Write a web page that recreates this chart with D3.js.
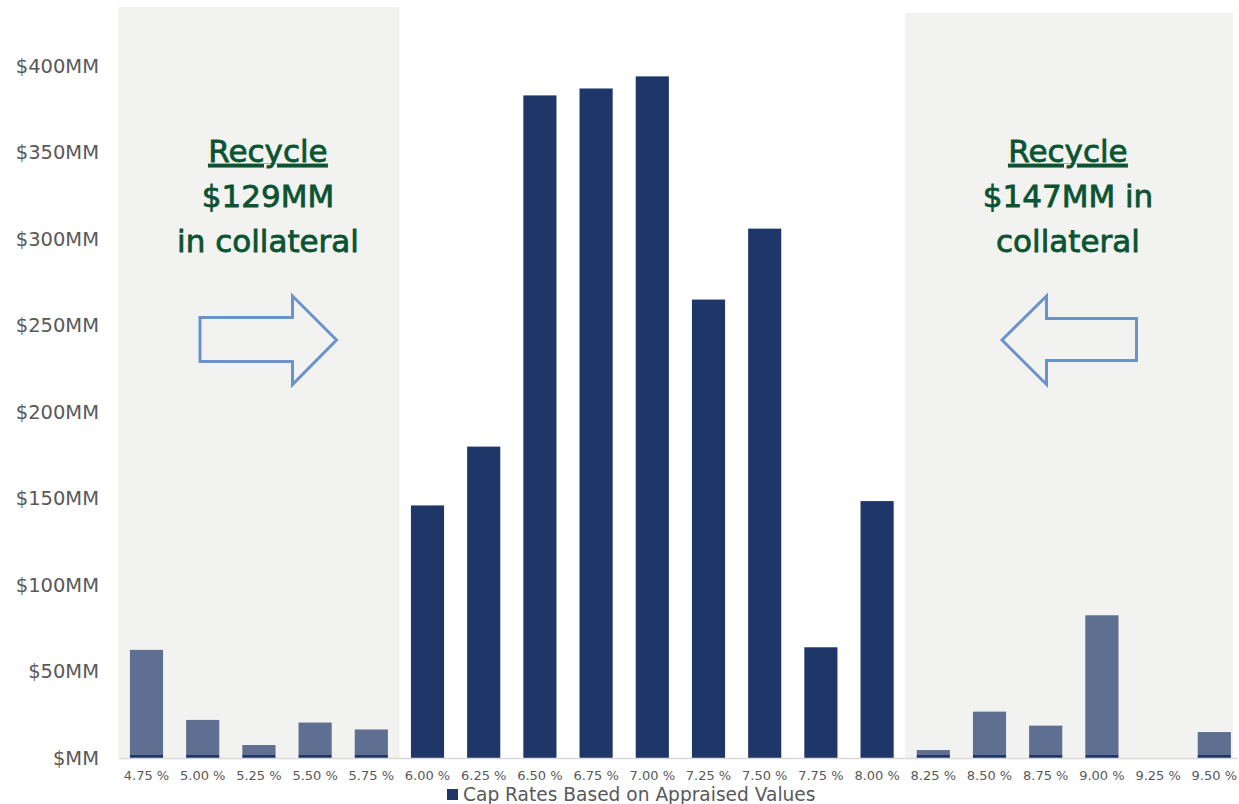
<!DOCTYPE html>
<html><head><meta charset="utf-8">
<script src="https://cdn.jsdelivr.net/npm/d3@7"></script>
<style>html,body{margin:0;padding:0;background:#fff;}svg{display:block;}</style>
</head><body>
<script>
const categories = ["4.75 %","5.00 %","5.25 %","5.50 %","5.75 %","6.00 %","6.25 %","6.50 %","6.75 %","7.00 %","7.25 %","7.50 %","7.75 %","8.00 %","8.25 %","8.50 %","8.75 %","9.00 %","9.25 %","9.50 %"];
const values = [62.5, 22, 7.5, 20.5, 16.5, 146, 180, 383, 387, 394, 265, 306, 64, 148.5, 4.6, 26.8, 18.7, 82.5, 0, 15];
const yTicks = [0, 50, 100, 150, 200, 250, 300, 350, 400];
const yTickLabels = ["$MM","$50MM","$100MM","$150MM","$200MM","$250MM","$300MM","$350MM","$400MM"];
const leftNote = ["Recycle", "$129MM", "in collateral"];
const rightNote = ["Recycle", "$147MM in", "collateral"];
const legendLabel = "Cap Rates Based on Appraised Values";

const W = 1239, H = 804;
const svg = d3.select("body").append("svg").attr("width", W).attr("height", H);
const font = "'DejaVu Sans', sans-serif";
const dark = "#1f3768", panel = "#f2f2f1", green = "#0b5331", arrowC = "#6a93cc";

const x = d3.scaleBand().domain(categories).range([118.4, 1242.4]).paddingInner(0.41).paddingOuter(0.205);
const y = d3.scaleLinear().domain([0, 400]).range([758, 66]);
const step = x.step();
const x0 = 118.4;

// panel backgrounds
const leftPanel = {x1: x0, x2: x0 + 5 * step, top: 7};
const rightPanel = {x1: x0 + 14 * step, x2: 1233, top: 13};
[leftPanel, rightPanel].forEach(p => {
  svg.append("rect").attr("x", p.x1).attr("y", p.top).attr("width", p.x2 - p.x1).attr("height", y(0) - p.top).attr("fill", panel);
});

// bars
svg.append("g").selectAll("rect").data(values).join("rect")
  .attr("x", (d, i) => x(categories[i]))
  .attr("width", x.bandwidth())
  .attr("y", d => y(d))
  .attr("height", d => y(0) - y(d))
  .attr("fill", dark);

// translucent overlay on panels
[leftPanel, rightPanel].forEach(p => {
  svg.append("rect").attr("x", p.x1).attr("y", p.top).attr("width", p.x2 - p.x1).attr("height", 755 - p.top)
    .attr("fill", panel).attr("fill-opacity", 0.3);
});

// baseline
svg.append("line").attr("x1", 119).attr("x2", 1238).attr("y1", y(0) + 0.5).attr("y2", y(0) + 0.5)
  .attr("stroke", "#d9d9d9").attr("stroke-width", 1.5);

// y axis
const yAxis = d3.axisLeft(y).tickValues(yTicks).tickFormat((d, i) => yTickLabels[i]).tickSize(0).tickPadding(0);
const gy = svg.append("g").attr("transform", "translate(99,0)").call(yAxis);
gy.select(".domain").remove();
gy.selectAll("text").attr("font-family", font).attr("font-size", 19.5).attr("fill", "#595959");

// x axis
const xAxis = d3.axisBottom(x).tickSize(0).tickPadding(0);
const gx = svg.append("g").attr("transform", "translate(0,771)").call(xAxis);
gx.select(".domain").remove();
gx.selectAll("text").attr("font-family", font).attr("font-size", 13).attr("fill", "#595959");

// notes
function note(lines, cx) {
  const t = svg.append("text").attr("font-family", font).attr("font-size", 31).attr("fill", green)
    .attr("stroke", green).attr("stroke-width", 0.8).attr("text-anchor", "middle");
  lines.forEach((l, i) => {
    t.append("tspan").attr("x", cx).attr("y", 162 + i * 45).text(l)
      .attr("text-decoration", i === 0 ? "underline" : null);
  });
}
note(leftNote, 268);
note(rightNote, 1068);

// arrows
const rightArrow = [[200,317.5],[292.5,317.5],[292.5,296],[336.5,340],[292.5,384.5],[292.5,361.5],[200,361.5]];
const leftArrow = [[1136.5,318.5],[1046.5,318.5],[1046.5,296],[1002,340],[1046.5,384.5],[1046.5,360.5],[1136.5,360.5]];
[rightArrow, leftArrow].forEach(pts => {
  svg.append("path").attr("d", d3.line()(pts) + "Z").attr("fill", "none").attr("stroke", arrowC).attr("stroke-width", 3).attr("stroke-linejoin", "miter");
});

// legend
svg.append("rect").attr("x", 447).attr("y", 789).attr("width", 11).attr("height", 11).attr("fill", dark);
svg.append("text").attr("x", 463).attr("y", 801).attr("font-family", font).attr("font-size", 18.6).attr("fill", "#595959").text(legendLabel);
</script>
</body></html>
